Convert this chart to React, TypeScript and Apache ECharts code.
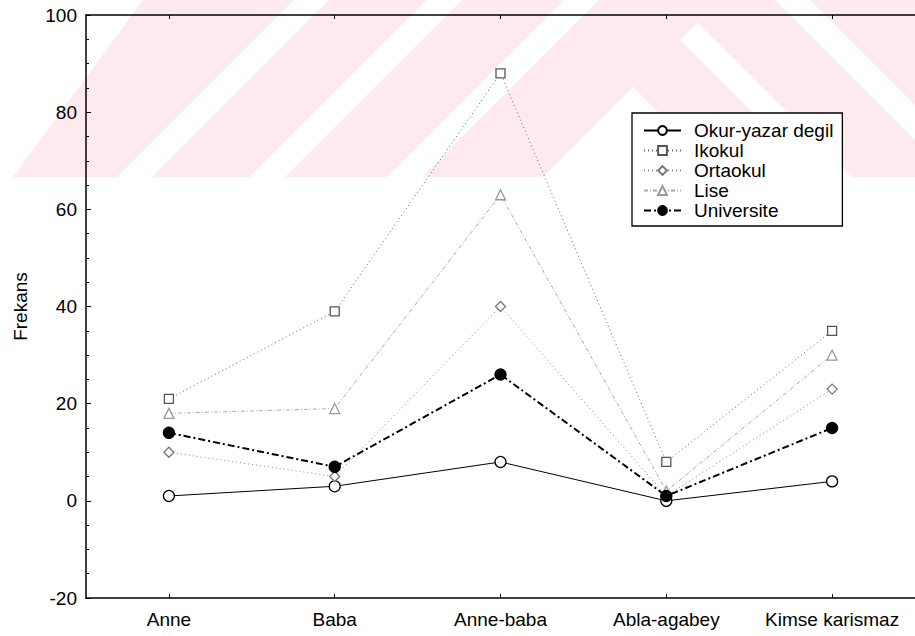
import React, { useEffect, useRef } from "react";
import * as echarts from "echarts";

const categories = ["Anne", "Baba", "Anne-baba", "Abla-agabey", "Kimse karismaz"];
const okurYazarDegil = [1, 3, 8, 0, 4];
const ikokul = [21, 39, 88, 8, 35];
const ortaokul = [10, 5, 40, 1, 23];
const lise = [18, 19, 63, 2, 30];
const universite = [14, 7, 26, 1, 15];
const yMin = -20;
const yMax = 100;
const yInterval = 20;

// light watermark stripes (decoration)
const watermark: number[][][] = [
  [[13, 177], [117, 177], [294, 0], [143, 0]],
  [[152, 177], [250, 177], [427, 0], [329, 0]],
  [[285, 177], [387, 177], [564, 0], [462, 0]],
  [[422, 177], [543, 177], [720, 0], [599, 0]],
  [[633, 87], [723, 177], [817, 177], [680, 40], [720, 0]],
  [[685, 0], [775, 0], [915, 140], [915, 177], [852, 177], [697, 22]],
  [[810, 0], [915, 0], [915, 105]],
];

const FONT = "'Liberation Sans', Arial, sans-serif";

export default function App() {
  const ref = useRef<HTMLDivElement>(null);
  useEffect(() => {
    if (!ref.current) return;
    const chart = echarts.init(ref.current, undefined, { renderer: "svg" });
    const mk = (
      name: string,
      data: number[],
      symbol: string,
      symbolSize: number,
      lineColor: string,
      lineWidth: number,
      lineType: any,
      fill: string,
      border: string
    ) => ({
      name,
      type: "line",
      data,
      symbol,
      symbolSize,
      showAllSymbol: true,
      xAxisIndex: 0,
      lineStyle: { color: lineColor, width: lineWidth, type: lineType },
      itemStyle: { color: fill, borderColor: border, borderWidth: 1.3 },
      z: 3,
    });
    chart.setOption({
      animation: false,
      backgroundColor: "#ffffff",
      graphic: watermark.map((pts) => ({
        type: "polygon",
        z: -10,
        silent: true,
        shape: { points: pts },
        style: { fill: "rgb(253,234,238)" },
      })),
      grid: { left: 86, right: -6, top: 15, bottom: 38, containLabel: false },
      legend: {
        orient: "vertical",
        left: 632,
        top: 113,
        padding: [8, 9, 6, 11],
        itemGap: 1,
        itemWidth: 37,
        itemHeight: 11,
        backgroundColor: "#ffffff",
        borderColor: "#000",
        borderWidth: 1.3,
        borderRadius: 0,
        textStyle: {
          fontFamily: FONT,
          fontSize: 19,
          color: "#000",
          lineHeight: 19,
          padding: [0, 0, 0, 8],
        },
        data: ["Okur-yazar degil", "Ikokul", "Ortaokul", "Lise", "Universite"],
      },
      xAxis: [
        {
          type: "category",
          data: categories,
          position: "bottom",
          axisLine: { show: true, onZero: false, lineStyle: { color: "#000", width: 1.5 } },
          axisTick: { show: true, inside: true, alignWithLabel: true, length: 4, lineStyle: { color: "#000" } },
          axisLabel: { color: "#000", fontFamily: FONT, fontSize: 19, margin: 12, interval: 0 },
          splitLine: { show: false },
        },
        {
          type: "category",
          data: categories,
          position: "top",
          axisLine: { show: true, onZero: false, lineStyle: { color: "#000", width: 1.5 } },
          axisTick: { show: true, inside: true, alignWithLabel: true, length: 4, lineStyle: { color: "#000" } },
          axisLabel: { show: false },
          splitLine: { show: false },
        },
      ],
      yAxis: {
        type: "value",
        min: yMin,
        max: yMax,
        interval: yInterval,
        name: "Frekans",
        nameLocation: "middle",
        nameRotate: 90,
        nameGap: 56,
        nameTextStyle: { color: "#000", fontFamily: FONT, fontSize: 19 },
        axisLine: { show: true, lineStyle: { color: "#000", width: 1.5 } },
        axisTick: { show: true, inside: true, length: 5, lineStyle: { color: "#000" } },
        minorTick: { show: true, splitNumber: 4, length: 3, lineStyle: { color: "#000" } },
        axisLabel: { color: "#000", fontFamily: FONT, fontSize: 19, margin: 9 },
        splitLine: { show: false },
      },
      series: [
        mk("Okur-yazar degil", okurYazarDegil, "circle", 11, "#000", 1, "solid", "#fff", "#000"),
        mk("Ikokul", ikokul, "rect", 9, "#666", 1, [1, 3], "#fff", "#555"),
        mk("Ortaokul", ortaokul, "diamond", 10, "#888", 1, [1, 3], "#fff", "#777"),
        mk("Lise", lise, "triangle", 10, "#aaa", 1, [4, 2, 1, 2], "#fff", "#999"),
        mk("Universite", universite, "circle", 11, "#000", 2, [7, 3, 2, 3], "#000", "#000"),
      ],
    });
    return () => chart.dispose();
  }, []);
  return (
    <div
      ref={ref}
      style={{ position: "fixed", left: 0, top: 0, width: 915, height: 636, background: "#fff" }}
    />
  );
}
